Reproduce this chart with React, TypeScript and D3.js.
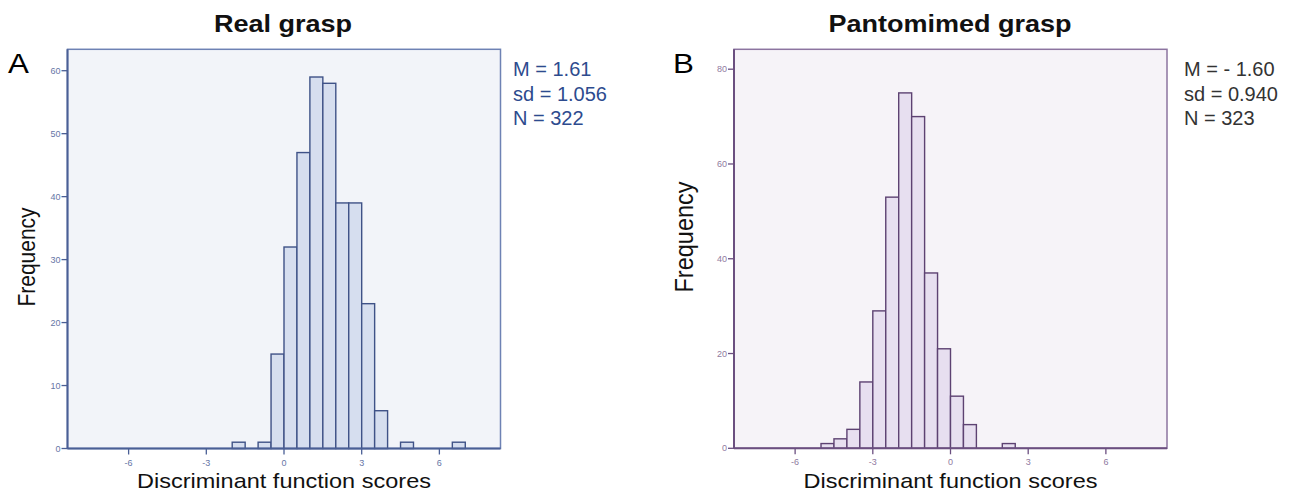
import React from "react";
import * as d3 from "d3";

// ---------- data ----------
const binWidth = 0.5;
const realBinStarts = [-2, -1, -0.5, 0, 0.5, 1, 1.5, 2, 2.5, 3, 3.5, 4.5, 6.5];
const realCounts = [1, 1, 15, 32, 47, 59, 58, 39, 39, 23, 6, 1, 1];
const pantoBinStarts = [-5, -4.5, -4, -3.5, -3, -2.5, -2, -1.5, -1, -0.5, 0, 0.5, 2];
const pantoCounts = [1, 2, 4, 14, 29, 53, 75, 70, 37, 21, 11, 5, 1];
const xTicks = [-6, -3, 0, 3, 6];
const realYTicks = [0, 10, 20, 30, 40, 50, 60];
const pantoYTicks = [0, 20, 40, 60, 80];
const realStats = ["M = 1.61", "sd = 1.056", "N = 322"];
const pantoStats = ["M = - 1.60", "sd = 0.940", "N = 323"];

const FONT = "'Liberation Sans', Arial, sans-serif";
const SX = 1.12;

type PanelProps = {
  title: string;
  letter: string;
  binStarts: number[];
  counts: number[];
  yTicks: number[];
  yMax: number;
  x0: number;
  x1: number;
  y0: number;
  y1: number;
  stats: string[];
  statsColor: string;
  bg: string;
  frame: string;
  axis: string;
  barFill: string;
  barStroke: string;
  tickColor: string;
  letterX: number;
  freqX: number;
  freqY: number;
  freqSize: number;
  titleX: number;
  statsX: number;
};

function Panel(p: PanelProps) {
  const x = d3.scaleLinear().domain([-8.36, 8.36]).range([p.x0, p.x1]);
  const y = d3.scaleLinear().domain([0, p.yMax]).range([p.y0, p.y1]);
  const cx = (p.x0 + p.x1) / 2;
  return (
    <g>
      <rect x={p.x0} y={p.y1} width={p.x1 - p.x0} height={p.y0 - p.y1} fill={p.bg} stroke={p.frame} strokeWidth={1.5} />
      {p.binStarts.map((b, i) => (
        <rect
          key={i}
          x={x(b)}
          y={y(p.counts[i])}
          width={x(b + binWidth) - x(b)}
          height={y(0) - y(p.counts[i])}
          fill={p.barFill}
          stroke={p.barStroke}
          strokeWidth={1.4}
        />
      ))}
      {/* axes */}
      <line x1={p.x0} x2={p.x0} y1={p.y1} y2={p.y0} stroke={p.axis} strokeWidth={2} />
      <line x1={p.x0} x2={p.x1} y1={p.y0} y2={p.y0} stroke={p.axis} strokeWidth={2} />
      {p.yTicks.map((t) => (
        <g key={"y" + t}>
          <line x1={p.x0 - 6} x2={p.x0} y1={y(t)} y2={y(t)} stroke={p.axis} strokeWidth={1.3} />
          <text x={p.x0 - 7} y={y(t) + 3} fontSize={9} fill={p.tickColor} textAnchor="end" fontFamily={FONT}>
            {t}
          </text>
        </g>
      ))}
      {xTicks.map((t) => (
        <g key={"x" + t}>
          <line x1={x(t)} x2={x(t)} y1={p.y0} y2={p.y0 + 6} stroke={p.axis} strokeWidth={1.3} />
          <text x={x(t)} y={p.y0 + 17} fontSize={9} fill={p.tickColor} textAnchor="middle" fontFamily={FONT}>
            {t}
          </text>
        </g>
      ))}
      <text
        transform={`translate(${p.titleX},32) scale(1.15,1)`}
        textAnchor="middle"
        fontSize={23.5}
        fontWeight="bold"
        fill="#111"
        fontFamily={FONT}
      >
        {p.title}
      </text>
      <text transform={`translate(${p.letterX},73) scale(${SX},1)`} fontSize={28} fill="#000" fontFamily={FONT}>
        {p.letter}
      </text>
      <text
        transform={`translate(${p.freqX},${p.freqY}) scale(${SX},1) rotate(-90)`}
        textAnchor="middle"
        fontSize={p.freqSize}
        fill="#111"
        fontFamily={FONT}
      >
        Frequency
      </text>
      <text
        transform={`translate(${cx},488) scale(${SX},1)`}
        textAnchor="middle"
        fontSize={21}
        fill="#111"
        fontFamily={FONT}
      >
        Discriminant function scores
      </text>
      {p.stats.map((s, i) => (
        <text key={s} x={p.statsX} y={76 + i * 24.5} fontSize={20} fill={p.statsColor} fontFamily={FONT}>
          {s}
        </text>
      ))}
    </g>
  );
}

export default function App() {
  return (
    <svg
      width={1292}
      height={497}
      style={{ position: "absolute", left: 0, top: 0, background: "#fff" }}
    >
      <rect width={1292} height={497} fill="#fff" />
      <Panel
        title="Real grasp"
        letter="A"
        binStarts={realBinStarts}
        counts={realCounts}
        yTicks={realYTicks}
        yMax={63.4}
        x0={67.5}
        x1={500.5}
        y0={448.5}
        y1={49.3}
        stats={realStats}
        statsColor="#2d4b8e"
        bg="#f2f4f9"
        frame="#6e82b4"
        axis="#4a5f95"
        barFill="#d6deef"
        barStroke="#3f5287"
        tickColor="#6676a6"
        letterX={8}
        freqX={35}
        freqY={257}
        freqSize={21}
        titleX={283}
        statsX={513}
      />
      <Panel
        title="Pantomimed grasp"
        letter="B"
        binStarts={pantoBinStarts}
        counts={pantoCounts}
        yTicks={pantoYTicks}
        yMax={84.2}
        x0={734}
        x1={1167}
        y0={448.3}
        y1={49.3}
        stats={pantoStats}
        statsColor="#333"
        bg="#f6f3f8"
        frame="#8c74a0"
        axis="#6b4f80"
        barFill="#e7dff0"
        barStroke="#5d4272"
        tickColor="#8f7aa0"
        letterX={673}
        freqX={693}
        freqY={237}
        freqSize={23.5}
        titleX={950}
        statsX={1184}
      />
    </svg>
  );
}
